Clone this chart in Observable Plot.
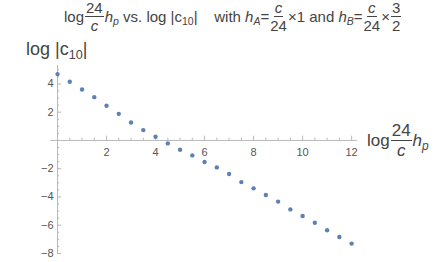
<!DOCTYPE html>
<html><head><meta charset="utf-8">
<script src="https://cdn.jsdelivr.net/npm/d3@7"></script>
<script src="https://cdn.jsdelivr.net/npm/@observablehq/plot@0.6"></script>
<style>
html,body{margin:0;padding:0;background:#fff;}
#wrap{position:relative;width:436px;height:262px;overflow:hidden;font-family:"Liberation Sans",Arial,sans-serif;color:#444;}
#wrap svg{position:absolute;left:0;top:0;}
.ov{position:absolute;white-space:nowrap;display:flex;align-items:center;}
.frac{display:inline-flex;flex-direction:column;align-items:center;line-height:1;margin:0 1px;}
.frac .num{border-bottom:1px solid #444;padding:0 1px 1px 1px;}
.frac .den{padding-top:1px;}
i{font-style:italic;}
sub{font-size:70%;vertical-align:-0.3em;line-height:0;}
</style></head>
<body>
<div id="wrap">
  <div id="title" class="ov" style="left:64px;top:0px;font-size:15px;">
    <span>log</span><span class="frac"><span class="num">24</span><span class="den"><i>c</i></span></span><span><i>h<sub>p</sub></i>&nbsp;vs. log |c<sub>10</sub>|&nbsp;&nbsp;&nbsp;&nbsp;with&nbsp;<i>h<sub>A</sub></i>=</span><span class="frac"><span class="num"><i>c</i></span><span class="den">24</span></span><span>×1 and&nbsp;<i>h<sub>B</sub></i>=</span><span class="frac"><span class="num"><i>c</i></span><span class="den">24</span></span><span>×</span><span class="frac"><span class="num">3</span><span class="den">2</span></span>
  </div>
  <div id="ylab" style="position:absolute;left:26px;top:38px;font-size:18px;line-height:22px;white-space:nowrap;"><span>log |c<sub>10</sub>|</span></div>
  <div id="xlab" class="ov" style="left:367px;top:122px;font-size:17px;">
    <span>log</span><span class="frac"><span class="num">24</span><span class="den"><i>c</i></span></span><span><i>h<sub>p</sub></i></span>
  </div>
</div>
<script>
const xValues = [0,0.5,1,1.5,2,2.5,3,3.5,4,4.5,5,5.5,6,6.5,7,7.5,8,8.5,9,9.5,10,10.5,11,11.5,12];
const yValues = [4.69,4.15,3.6,3.06,2.45,1.88,1.27,0.73,0.26,-0.21,-0.66,-1.06,-1.53,-1.91,-2.38,-2.95,-3.39,-3.86,-4.33,-4.88,-5.35,-5.82,-6.36,-6.83,-7.3];
const xTickLabels = [2,4,6,8,10,12];
const yTickLabels = [4,2,-2,-4,-6,-8];

const data = xValues.map((x,i)=>({x, y:yValues[i]}));
const xMajor = d3.range(2, 12.01, 2);
const xMinor = d3.range(0.5, 12.2, 0.5).filter(v => Math.abs(v/2 - Math.round(v/2)) > 1e-6);
const yMajor = d3.range(-8, 5.01, 2).filter(v=>v!==0);
const yMinor = d3.range(-8, 5.3, 0.5).filter(v => Math.abs(v/2 - Math.round(v/2)) > 1e-6);
const fmt = v => (v<0 ? "\u2212"+Math.abs(v) : String(v));
const axisColor = "#b8b8b8";
const labColor = "#555";

const chart = Plot.plot({
  width: 436, height: 262,
  marginLeft: 50.4, marginRight: 79, marginTop: 65, marginBottom: 9,
  x: {domain: [-0.27, 12.24], axis: null},
  y: {domain: [-8, 5.3], axis: null},
  style: {fontFamily: "Liberation Sans, Arial, sans-serif", background: "transparent"},
  marks: [
    Plot.ruleY([0], {stroke: axisColor}),
    Plot.ruleX([0], {y1: -8, y2: 5.3, stroke: axisColor}),
    Plot.ruleX(xMajor, {x: d=>d, y1: 0, y2: 0.3, stroke: axisColor}),
    Plot.ruleX(xMinor, {x: d=>d, y1: 0, y2: 0.16, stroke: axisColor}),
    Plot.ruleY(yMajor, {y: d=>d, x1: 0, x2: 0.17, stroke: axisColor}),
    Plot.ruleY(yMinor, {y: d=>d, x1: 0, x2: 0.09, stroke: axisColor}),
    Plot.text(xTickLabels, {x: d=>d, y: 0, text: fmt, dy: 12, fill: labColor, fontSize: 11}),
    Plot.text(yTickLabels, {x: 0, y: d=>d, text: fmt, dx: -4, textAnchor: "end", fill: labColor, fontSize: 11}),
    Plot.dot(data, {x: "x", y: "y", r: 2.2, fill: "#5E81B5", stroke: "none"})
  ]
});
document.getElementById("wrap").prepend(chart);
</script>
</body></html>
